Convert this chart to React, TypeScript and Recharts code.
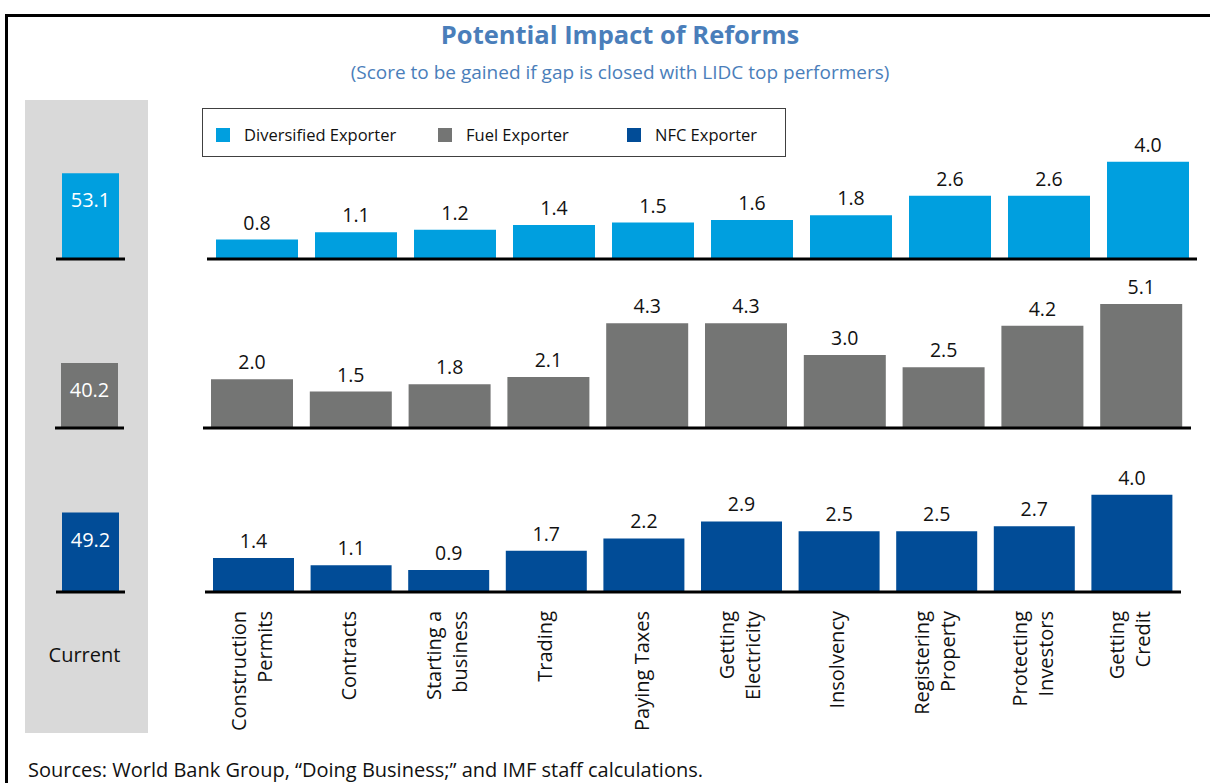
import React from 'react';
import { BarChart, Bar, XAxis, YAxis, LabelList } from 'recharts';

const categories = [
  'Construction\nPermits',
  'Contracts',
  'Starting a\nbusiness',
  'Trading',
  'Paying Taxes',
  'Getting\nElectricity',
  'Insolvency',
  'Registering\nProperty',
  'Protecting\nInvestors',
  'Getting\nCredit',
];

const diversified = [0.8, 1.1, 1.2, 1.4, 1.5, 1.6, 1.8, 2.6, 2.6, 4.0];
const fuel = [2.0, 1.5, 1.8, 2.1, 4.3, 4.3, 3.0, 2.5, 4.2, 5.1];
const nfc = [1.4, 1.1, 0.9, 1.7, 2.2, 2.9, 2.5, 2.5, 2.7, 4.0];

const seriesNames = ['Diversified Exporter', 'Fuel Exporter', 'NFC Exporter'];
const current = [53.1, 40.2, 49.2];

const COLORS = ['#009FDF', '#747574', '#014C97'];
const FONT = '"Open Sans", "Noto Sans", sans-serif';
const TITLE_BLUE = '#4A7EBA';
const PLOT_H = 146;
const TOP_PAD = 30; // room for labels above the tallest bar

const fmt = (v: any) => Number(v).toFixed(1);

// rotated, possibly two-line category label
const RotatedTick = (props: any) => {
  const { x, y, payload } = props;
  const lines = String(payload.value).split('\n');
  const gap = 26;
  const start = -((lines.length - 1) * gap) / 2;
  return (
    <g transform={`translate(${x},${y + 11}) rotate(-90)`}>
      <text textAnchor="end" fontSize={20} fill="#111" fontFamily={FONT}>
        {lines.map((l, i) => (
          <tspan key={i} x={0} y={start + i * gap + 5}>
            {l}
          </tspan>
        ))}
      </text>
    </g>
  );
};

type RowProps = {
  values: number[];
  color: string;
  left: number;
  bottom: number;
  width: number;
  barSize: number;
  showTicks?: boolean;
};

const Row = ({ values, color, left, bottom, width, barSize, showTicks }: RowProps) => {
  const data = categories.map((c, i) => ({ name: c, value: values[i] }));
  const axisH = showTicks ? 150 : 4;
  return (
    <div style={{ position: 'absolute', left, top: bottom - PLOT_H - TOP_PAD }}>
      <BarChart
        width={width}
        height={PLOT_H + axisH + TOP_PAD}
        data={data}
        margin={{ top: TOP_PAD, right: 0, left: 0, bottom: 0 }}
        barSize={barSize}
      >
        <XAxis
          dataKey="name"
          height={axisH}
          axisLine={{ stroke: '#000', strokeWidth: 3 }}
          tickLine={false}
          tick={showTicks ? <RotatedTick /> : false}
          interval={0}
        />
        <YAxis hide domain={[0, 6]} />
        <Bar dataKey="value" fill={color} isAnimationActive={false}>
          <LabelList
            dataKey="value"
            position="top"
            offset={10}
            fill="#111"
            fontSize={19.5}
            formatter={fmt}
          />
        </Bar>
      </BarChart>
    </div>
  );
};

const CurrentBar = ({ value, color, left, bottom }: { value: number; color: string; left: number; bottom: number }) => (
  <div style={{ position: 'absolute', left, top: bottom - 97 }}>
    <BarChart
      width={69}
      height={101}
      data={[{ name: 'Current', value }]}
      margin={{ top: 0, right: 0, left: 0, bottom: 0 }}
      barSize={57}
    >
      <XAxis dataKey="name" height={4} axisLine={{ stroke: '#000', strokeWidth: 3 }} tickLine={false} tick={false} />
      <YAxis hide domain={[0, 60]} />
      <Bar dataKey="value" fill={color} isAnimationActive={false}>
        <LabelList dataKey="value" position="insideTop" offset={20} fill="#fff" fontSize={20} formatter={fmt} />
      </Bar>
    </BarChart>
  </div>
);

const App: React.FC = () => {
  return (
    <div
      style={{
        position: 'absolute',
        left: 0,
        top: 0,
        width: 1210,
        height: 783,
        overflow: 'hidden',
        background: '#fff',
        fontFamily: FONT,
      }}
    >
      {/* frame */}
      <div style={{ position: 'absolute', left: 5, top: 14, width: 1220, height: 800, borderLeft: '3px solid #000', borderTop: '3px solid #000' }} />

      <div style={{ position: 'absolute', left: 0, width: 1240, top: 17, textAlign: 'center', fontSize: 25.5, fontWeight: 700, color: TITLE_BLUE }}>
        Potential Impact of Reforms
      </div>
      <div style={{ position: 'absolute', left: 0, width: 1240, top: 59, textAlign: 'center', fontSize: 19, color: TITLE_BLUE }}>
        (Score to be gained if gap is closed with LIDC top performers)
      </div>

      {/* current panel */}
      <div style={{ position: 'absolute', left: 25, top: 100, width: 123, height: 633, background: '#D9D9D9' }} />
      <div style={{ position: 'absolute', left: 23, width: 123, top: 641, textAlign: 'center', fontSize: 20, color: '#111' }}>
        Current
      </div>
      <CurrentBar value={current[0]} color={COLORS[0]} left={56} bottom={259} />
      <CurrentBar value={current[1]} color={COLORS[1]} left={55} bottom={428} />
      <CurrentBar value={current[2]} color={COLORS[2]} left={56} bottom={592} />

      <Row values={diversified} color={COLORS[0]} left={207} bottom={259} width={990} barSize={82} />
      <Row values={fuel} color={COLORS[1]} left={203} bottom={428} width={988} barSize={82} />
      <Row values={nfc} color={COLORS[2]} left={205} bottom={592} width={976} barSize={81} showTicks />

      {/* legend */}
      <div style={{ position: 'absolute', left: 202, top: 108, width: 582, height: 47, border: '1px solid #404040', background: '#fff' }}>
        {seriesNames.map((n, i) => (
          <div key={n} style={{ position: 'absolute', left: [13, 235, 424][i], top: 18, display: 'flex', alignItems: 'center' }}>
            <div style={{ width: 14, height: 14, background: COLORS[i], marginRight: 14 }} />
            <span style={{ fontSize: 16.5, color: '#111', lineHeight: '16px' }}>{n}</span>
          </div>
        ))}
      </div>

      <div style={{ position: 'absolute', left: 28, top: 759, fontSize: 20, lineHeight: '22px', color: '#111', whiteSpace: 'nowrap' }}>
        Sources: World Bank Group, “Doing Business;” and IMF staff calculations.
      </div>
    </div>
  );
};

export default App;
